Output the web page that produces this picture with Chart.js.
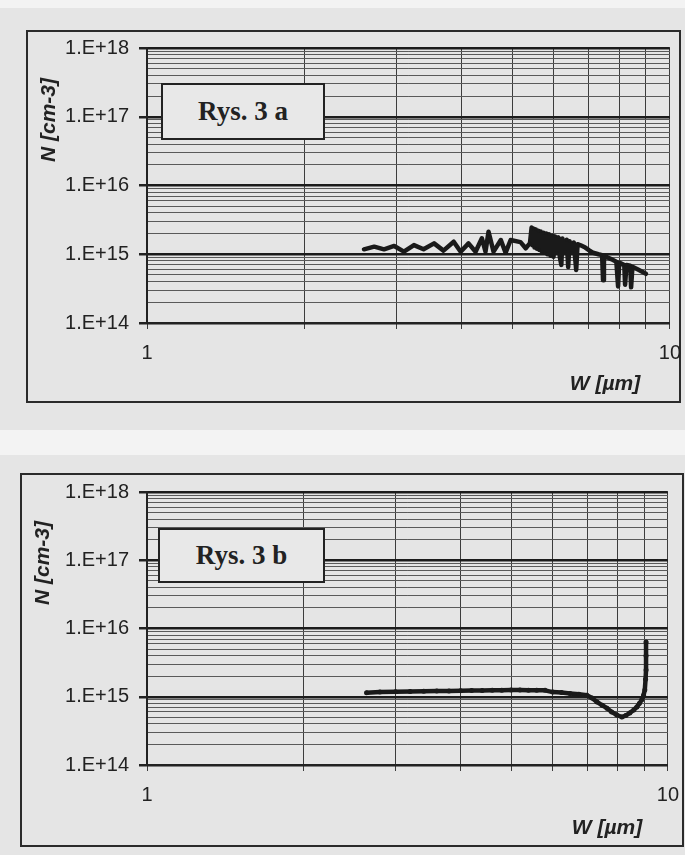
<!DOCTYPE html>
<html>
<head>
<meta charset="utf-8">
<script src="https://cdn.jsdelivr.net/npm/chart.js@4.4.1/dist/chart.umd.min.js"></script>
<style>
body{margin:0;width:685px;height:855px;background:#f3f3f3;position:relative;overflow:hidden;font-family:"Liberation Sans",Arial,sans-serif;}
.panel{position:absolute;left:0;width:685px;background:#e5e5e5;}
.frame{position:absolute;border:2px solid #2b2b2b;box-sizing:border-box;}
canvas{position:absolute;left:0;}
.ytitle{position:absolute;font:bold italic 21px "Liberation Sans",Arial,sans-serif;color:#222;white-space:nowrap;transform:translate(-50%,-50%) rotate(-90deg);}
.xtitle{position:absolute;font:bold italic 21px "Liberation Sans",Arial,sans-serif;color:#222;white-space:nowrap;transform:translate(-50%,-50%);}
.tag{position:absolute;border:2px solid #222;background:#e8e8e8;box-sizing:border-box;display:flex;align-items:center;justify-content:center;font:bold 27px "Liberation Serif","Times New Roman",serif;color:#222;z-index:2;}
</style>
</head>
<body>
<div class="panel" style="top:8px;height:422px;"></div>
<div class="panel" style="top:455px;height:400px;"></div>
<div class="frame" style="left:26px;top:30px;width:655px;height:373px;"></div>
<div class="frame" style="left:20px;top:473px;width:664px;height:374px;"></div>

<canvas id="chartA" width="693" height="430" style="top:0;"></canvas>
<canvas id="chartB" width="691" height="415" style="top:440px;"></canvas>

<div class="ytitle" style="left:48px;top:120px;">N [cm-3]</div>
<div class="ytitle" style="left:42px;top:563px;">N [cm-3]</div>
<div class="xtitle" style="left:605px;top:383px;">W [µm]</div>
<div class="xtitle" style="left:607px;top:827px;">W [µm]</div>
<div class="tag" style="left:161px;top:83px;width:164px;height:57px;">Rys. 3 a</div>
<div class="tag" style="left:158px;top:528px;width:167px;height:55px;">Rys. 3 b</div>

<script>
// W [um] and N [cm-3], Rys. 3 a
var wA = [2.60,2.72,2.84,2.97,3.10,3.24,3.38,3.54,3.69,3.86,3.98,4.12,4.25,4.37,4.44,4.50,4.60,4.75,4.85,4.96,5.18,5.30,
          5.40,5.44,5.46,5.49,5.51,5.54,5.57,5.60,5.63,5.66,5.69,5.73,5.76,5.80,5.83,5.87,5.91,5.95,5.99,6.03,
          6.08,6.12,6.16,6.20,6.23,6.30,6.35,6.39,6.43,6.50,6.55,6.62,6.66,6.75,6.89,
          7.00,7.13,7.30,7.42,7.45,7.48,7.72,7.90,7.96,8.00,8.18,8.21,8.26,8.40,8.43,8.48,8.69,9.00];
var nA = [1.18e15,1.29e15,1.18e15,1.32e15,1.09e15,1.36e15,1.18e15,1.44e15,1.13e15,1.52e15,1.09e15,1.44e15,1.09e15,1.71e15,1.09e15,2.13e15,1.09e15,1.61e15,1.05e15,1.61e15,1.50e15,1.22e15,
          1.45e15,2.45e15,1.35e15,2.35e15,1.25e15,2.30e15,1.20e15,2.20e15,1.15e15,2.15e15,1.10e15,2.05e15,1.05e15,2.00e15,1.00e15,1.95e15,9.5e14,1.88e15,9.2e14,1.82e15,
          1.05e15,1.76e15,9.0e14,7.0e14,1.70e15,1.10e15,1.62e15,6.5e14,1.55e15,1.05e15,1.48e15,5.9e14,1.40e15,1.35e15,1.25e15,
          1.15e15,1.05e15,1.00e15,9.7e14,4.2e14,9.5e14,8.5e14,7.8e14,3.4e14,7.6e14,7.0e14,3.6e14,7.0e14,6.8e14,3.3e14,6.6e14,6.0e14,5.2e14];

// Rys. 3 b
var wB = [2.64,2.80,3.00,3.20,3.40,3.60,3.80,4.00,4.20,4.40,4.60,4.80,5.00,5.20,5.40,5.60,5.81,6.01,6.25,6.49,
          6.75,6.99,7.15,7.31,7.48,7.64,7.80,7.98,8.16,8.30,8.45,8.60,8.72,8.82,8.91,8.98,9.03,9.06,9.08,9.08,9.08];
var nB = [1.14e15,1.17e15,1.18e15,1.19e15,1.20e15,1.21e15,1.21e15,1.22e15,1.23e15,1.23e15,1.24e15,1.25e15,1.26e15,1.26e15,1.25e15,1.25e15,1.24e15,1.17e15,1.15e15,1.12e15,
          1.09e15,1.05e15,9.6e14,8.4e14,7.5e14,6.8e14,6.0e14,5.4e14,5.05e14,5.3e14,5.8e14,6.4e14,7.1e14,8.0e14,9.0e14,1.05e15,1.26e15,1.8e15,2.47e15,4.0e15,6.34e15];

var xTicks = [1,2,3,4,5,6,7,8,9,10];
var xLabels = {1:'1', 10:'10'};
var yDecades = [1e14,1e15,1e16,1e17];
var yMinor = [1,2,3,4,5,6,7,8,9];
var yTicks = [];
yDecades.forEach(function(d){ yMinor.forEach(function(m){ yTicks.push(m*d); }); });
yTicks.push(1e18);

function isDecade(v){
    var l = Math.log10(v);
    return Math.abs(l - Math.round(l)) < 1e-6;
}
function yLabel(v){
    return isDecade(v) ? '1.E+' + Math.round(Math.log10(v)) : '';
}

var tickFont = {family:'"Liberation Sans", Arial, sans-serif', size:20};

function makeOptions(padTop, padRight, xAxisH){
    return {
        responsive:false,
        animation:false,
        layout:{padding:{top:padTop,right:padRight,left:0,bottom:0}},
        plugins:{legend:{display:false},tooltip:{enabled:false}},
        scales:{
            x:{
                type:'logarithmic', min:1, max:10,
                afterFit:function(s){ s.height = xAxisH; },
                afterBuildTicks:function(s){ s.ticks = xTicks.map(function(v){ return {value:v}; }); },
                ticks:{autoSkip:false, maxRotation:0, padding:12, color:'#222', font:tickFont,
                       callback:function(v){ return xLabels[v] || ''; }},
                grid:{color:'#3c3c3c', lineWidth:1, tickLength:6},
                border:{color:'#222', width:2}
            },
            y:{
                type:'logarithmic', min:1e14, max:1e18,
                afterFit:function(s){ s.width = 147; },
                afterBuildTicks:function(s){ s.ticks = yTicks.map(function(v){ return {value:v}; }); },
                ticks:{autoSkip:false, padding:10, color:'#222', font:tickFont,
                       callback:function(v){ return yLabel(v); }},
                grid:{
                    tickLength:8,
                    color:function(c){ return c.tick && isDecade(c.tick.value) ? '#1c1c1c' : '#5a5a5a'; },
                    lineWidth:function(c){ return c.tick && isDecade(c.tick.value) ? 2.5 : 1; },
                    tickColor:function(c){ return c.tick && isDecade(c.tick.value) ? '#222' : 'rgba(0,0,0,0)'; }
                },
                border:{color:'#222', width:2}
            }
        }
    };
}

function points(ws, ns){
    return ws.map(function(w, i){ return {x:w, y:ns[i]}; });
}

new Chart(document.getElementById('chartA'), {
    type:'scatter',
    data:{datasets:[{
        data:points(wA, nA),
        showLine:true,
        borderColor:'#1a1a1a',
        borderWidth:4.5,
        borderJoinStyle:'round',
        borderCapStyle:'round',
        pointRadius:1.5,
        pointBackgroundColor:'#1a1a1a',
        pointBorderWidth:0
    }]},
    options:makeOptions(48, 6, 107)
});

new Chart(document.getElementById('chartB'), {
    type:'scatter',
    data:{datasets:[{
        data:points(wB, nB),
        showLine:true,
        borderColor:'#1a1a1a',
        borderWidth:4.5,
        borderJoinStyle:'round',
        borderCapStyle:'round',
        pointRadius:2.5,
        pointBackgroundColor:'#1a1a1a',
        pointBorderWidth:0
    }]},
    options:makeOptions(52, 8, 90)
});
</script>
</body>
</html>
